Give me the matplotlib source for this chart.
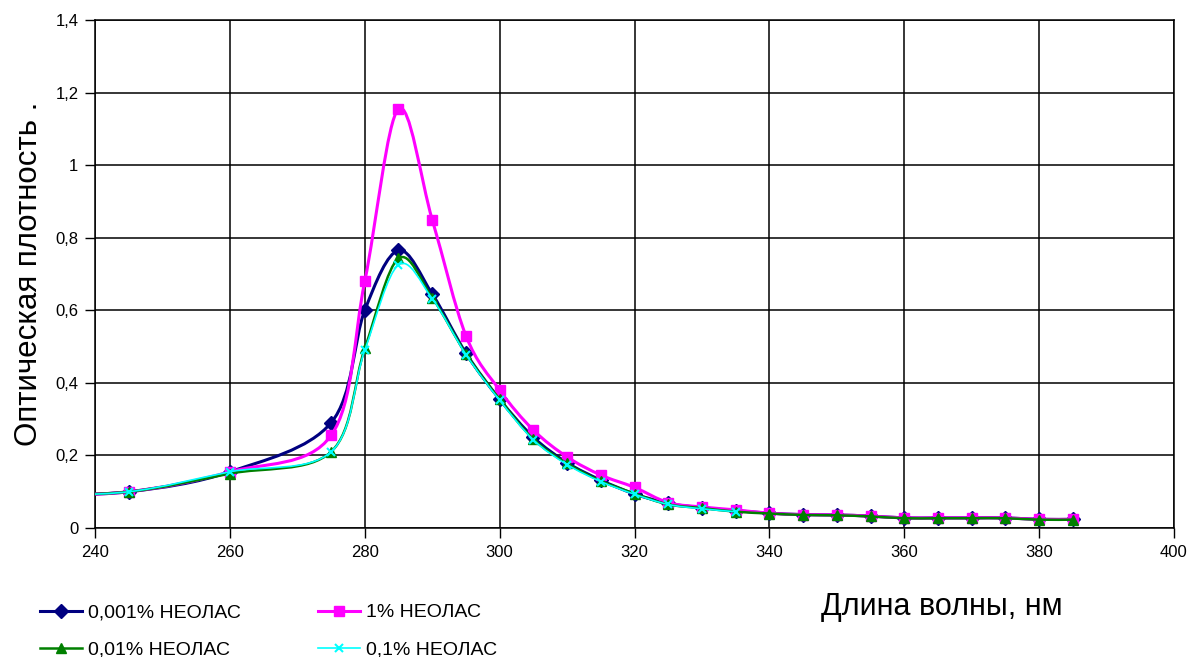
import matplotlib

matplotlib.use("Agg")
import matplotlib.pyplot as plt
import numpy as np
from matplotlib.lines import Line2D
from matplotlib.patches import PathPatch
from matplotlib.path import Path

plt.rcParams["font.family"] = ["Liberation Sans", "DejaVu Sans"]

# wavelength, nm (230 lies left of the axis; only its line segment shows)
wl = [230, 245, 260, 275, 280, 285, 290, 295, 300, 305, 310, 315, 320, 325,
      330, 335, 340, 345, 350, 355, 360, 365, 370, 375, 380, 385]
wl_short = wl[:16]

od_0001 = [0.09, 0.10, 0.155, 0.29, 0.60, 0.765, 0.645, 0.482, 0.355, 0.25,
           0.18, 0.132, 0.094, 0.068, 0.056, 0.048, 0.041, 0.037, 0.036,
           0.033, 0.028, 0.028, 0.028, 0.028, 0.024, 0.024]
od_1 = [0.09, 0.10, 0.155, 0.255, 0.68, 1.155, 0.85, 0.53, 0.38, 0.27,
        0.196, 0.146, 0.112, 0.07, 0.058, 0.05, 0.041, 0.037, 0.036,
        0.033, 0.028, 0.028, 0.028, 0.028, 0.024, 0.024]
od_001 = [0.09, 0.10, 0.15, 0.21, 0.495, 0.743, 0.635, 0.48, 0.355, 0.245,
          0.178, 0.13, 0.095, 0.065, 0.055, 0.045, 0.04, 0.036, 0.035,
          0.032, 0.027, 0.027, 0.027, 0.027, 0.023, 0.023]
od_01 = [0.09, 0.10, 0.155, 0.21, 0.49, 0.725, 0.632, 0.478, 0.352, 0.243,
         0.175, 0.128, 0.093, 0.065, 0.053, 0.045]

x_ticks = [240, 260, 280, 300, 320, 340, 360, 380, 400]
y_ticks = [0, 0.2, 0.4, 0.6, 0.8, 1.0, 1.2, 1.4]
y_tick_labels = ["0", "0,2", "0,4", "0,6", "0,8", "1", "1,2", "1,4"]


def smooth_path(xs, ys):
    """Bezier path through the points, like Excel's smoothed line."""
    pts = np.column_stack([xs, ys]).astype(float)
    verts = [pts[0]]
    codes = [Path.MOVETO]
    n = len(pts)
    for i in range(n - 1):
        p0 = pts[i - 1] if i > 0 else pts[i]
        p1, p2 = pts[i], pts[i + 1]
        p3 = pts[i + 2] if i + 2 < n else pts[i + 1]
        c1 = p1 + (p2 - p0) / 6.0
        c2 = p2 - (p3 - p1) / 6.0
        verts += [c1, c2, p2]
        codes += [Path.CURVE4] * 3
    return Path(verts, codes)


fig = plt.figure(figsize=(11.91, 6.57), dpi=100)
ax = fig.add_axes([0.0798, 0.1963, 0.9059, 0.7733])

series = [
    ("0,001% НЕОЛАС", wl, od_0001, "#000080", "D", 7.5, 2.2, 1.0),
    ("1% НЕОЛАС", wl, od_1, "#FF00FF", "s", 7.0, 2.2, 1.0),
    ("0,01% НЕОЛАС", wl, od_001, "#008000", "^", 7.0, 1.8, 1.0),
    ("0,1% НЕОЛАС", wl_short, od_01, "#00FFFF", "x", 6.0, 1.2, 1.5),
]

handles = {}
for k, (name, xs, ys, color, marker, ms, lw, mew) in enumerate(series):
    patch = PathPatch(smooth_path(xs, ys), facecolor="none", edgecolor=color,
                      linewidth=lw, zorder=3 + k)
    ax.add_patch(patch)
    ax.plot(xs, ys, linestyle="none", marker=marker, markersize=ms,
            color=color, markeredgewidth=mew, zorder=3 + k)
    handles[name] = Line2D([], [], color=color, linewidth=lw, marker=marker,
                           markersize=ms, markeredgewidth=mew)

ax.set_xlim(240, 400)
ax.set_ylim(0, 1.4)
ax.set_xticks(x_ticks)
ax.set_yticks(y_ticks)
ax.set_yticklabels(y_tick_labels)
ax.tick_params(axis="both", direction="out", length=7, width=1.0,
               labelsize=12, colors="black", pad=5)
ax.grid(True, color="black", linewidth=1.1)
ax.set_axisbelow(True)
for spine in ax.spines.values():
    spine.set_linewidth(1.1)
    spine.set_color("black")

ax.set_ylabel("Оптическая плотность .", fontsize=22.5, labelpad=8)
fig.text(0.791, 0.0755, "Длина волны, нм", fontsize=22, ha="center",
         va="center")

order = ["0,001% НЕОЛАС", "0,01% НЕОЛАС", "1% НЕОЛАС", "0,1% НЕОЛАС"]
fig.legend([handles[n] for n in order], order, ncol=2, frameon=False,
           loc="upper left", bbox_to_anchor=(0.0336, 0.081), fontsize=14,
           handlelength=2.15, handletextpad=0.3, columnspacing=4.0,
           labelspacing=1.0, borderaxespad=0, borderpad=0)

fig.savefig("out.png", dpi=100, facecolor="white")
